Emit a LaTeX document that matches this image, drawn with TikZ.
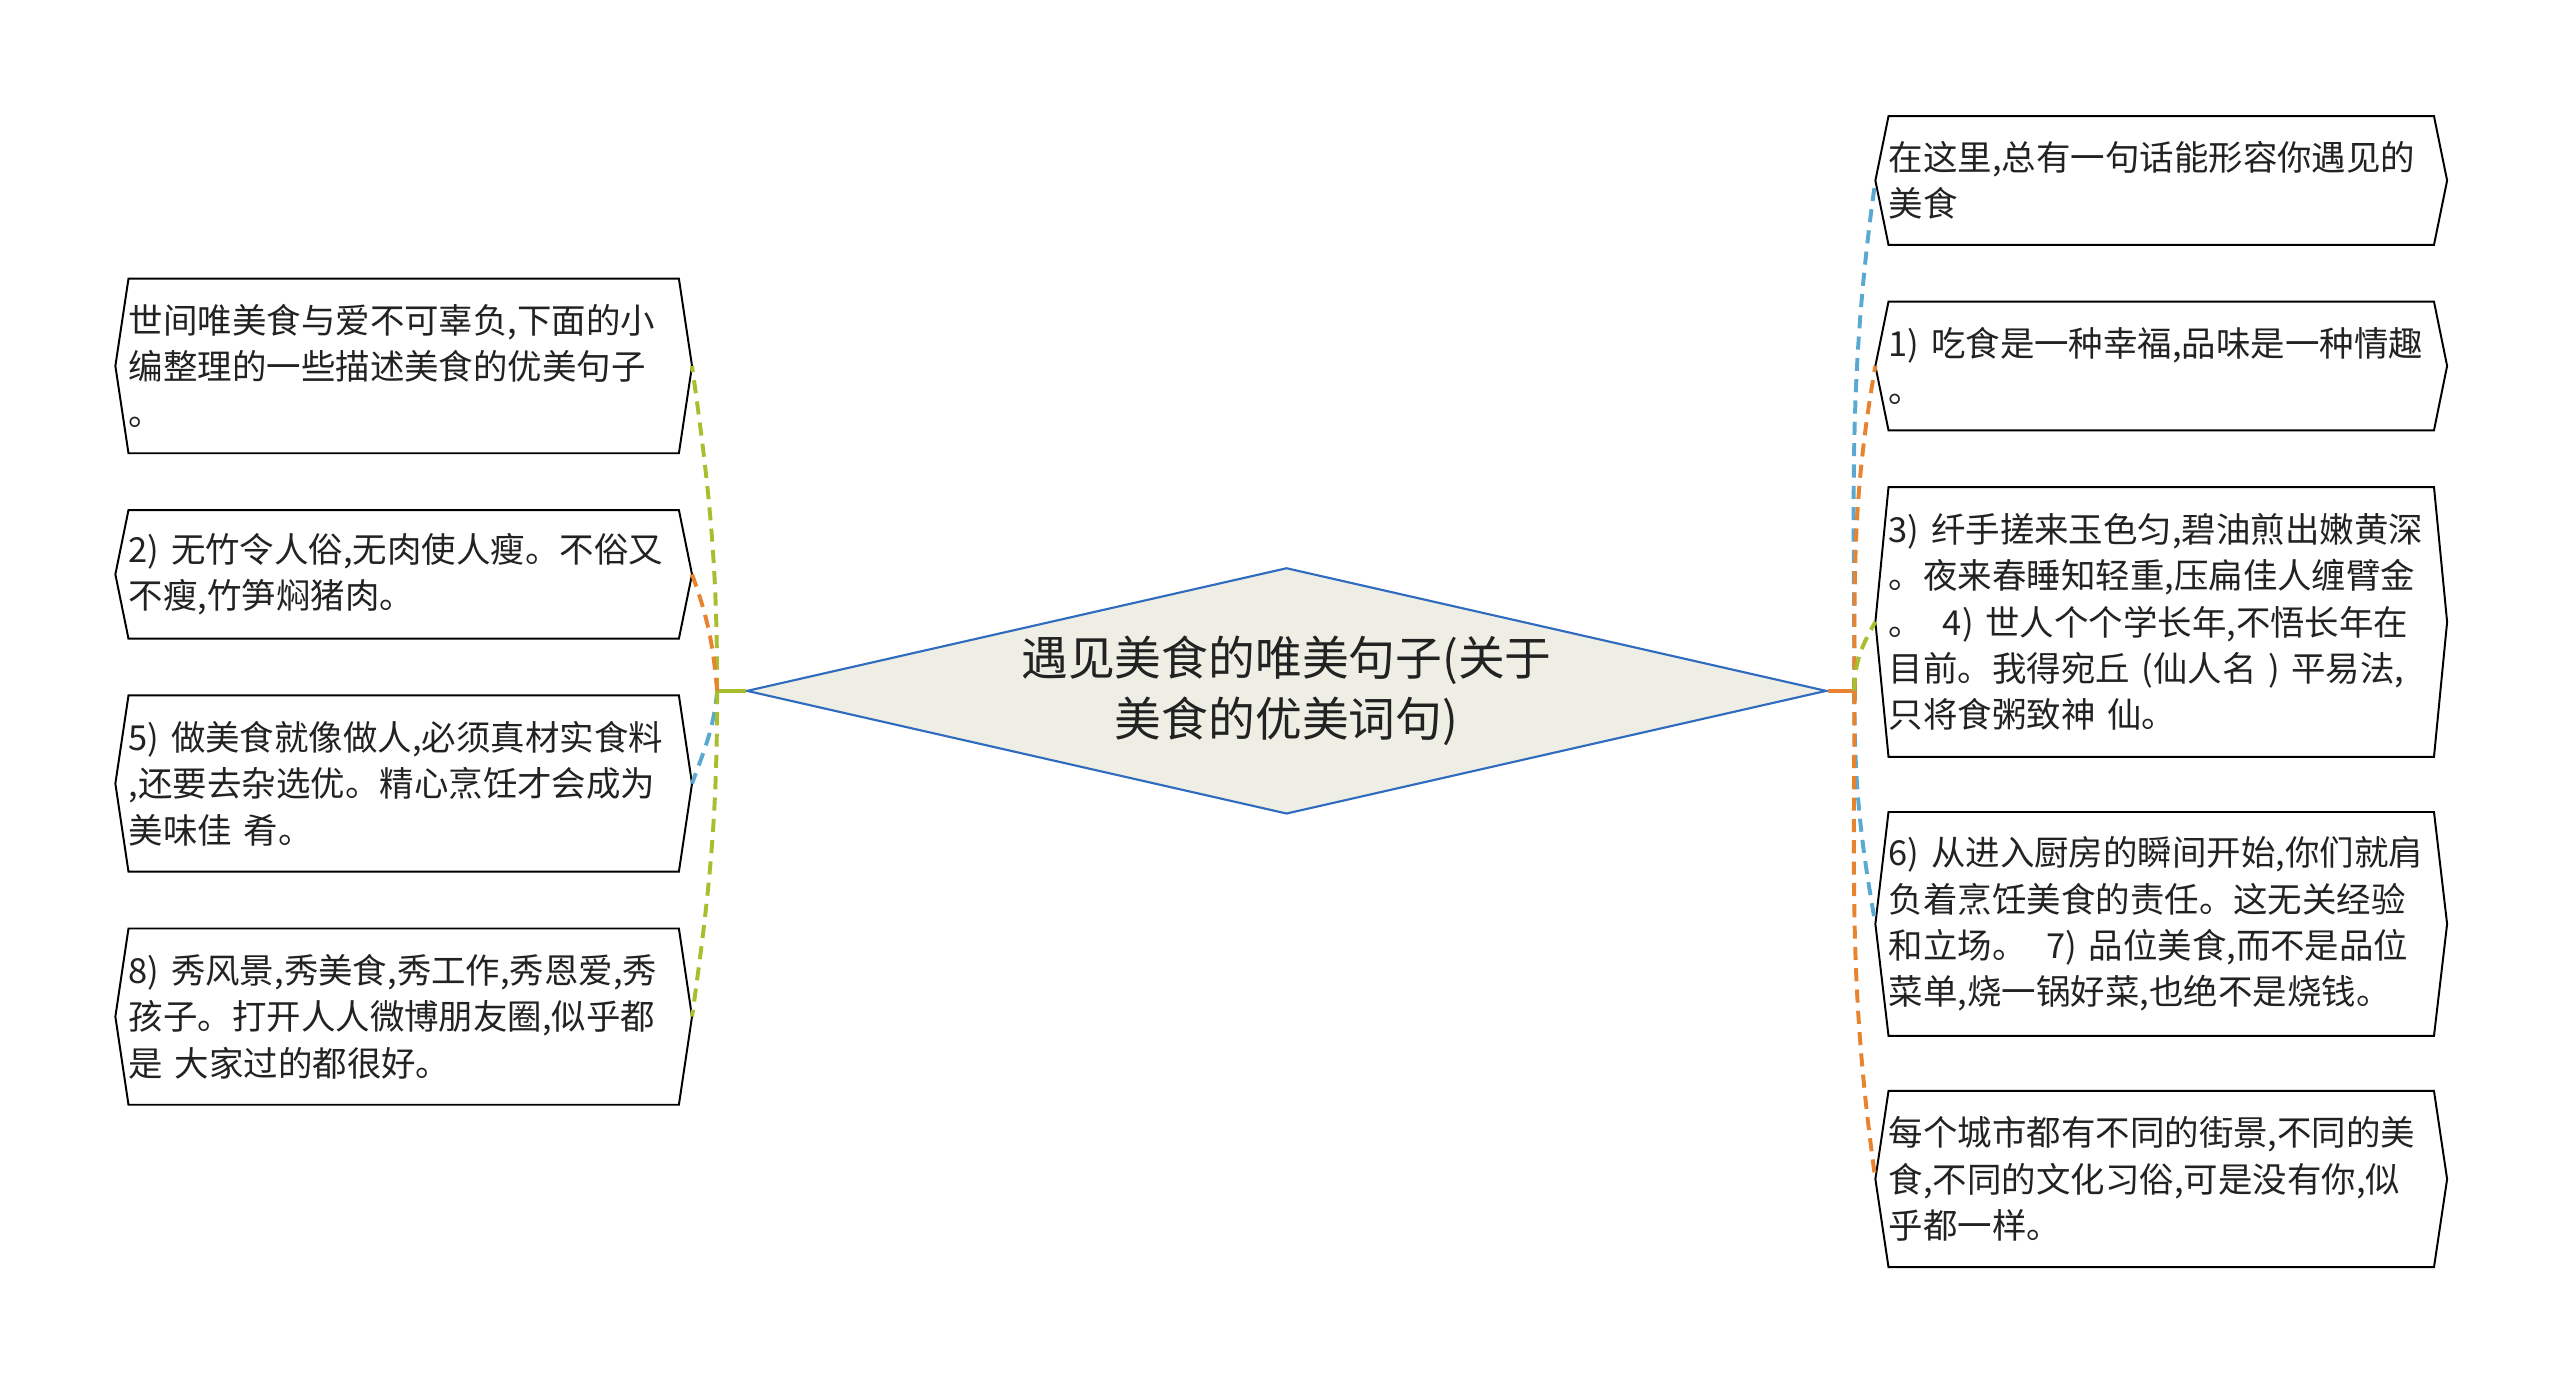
\documentclass[tikz,border=0pt]{standalone}
\usepackage{fontspec}
\newfontfamily\cjk{Noto Sans CJK SC}
\usetikzlibrary{shapes.geometric}
\definecolor{cgreen}{HTML}{A9BE2C}
\definecolor{corange}{HTML}{E8832F}
\definecolor{cblue}{HTML}{5AA9D1}
\definecolor{dborder}{HTML}{2F6CC0}
\definecolor{dfill}{HTML}{EEEEE5}
\definecolor{txt}{HTML}{222222}
\newcommand\hexdraw[1]{%
  \coordinate (#1r) at ([xshift=8pt]#1.east);
  \coordinate (#1l) at ([xshift=-8pt]#1.west);
  \draw[boxline] (#1.north west) -- (#1.north east) -- (#1r) -- (#1.south east) -- (#1.south west) -- (#1l) -- cycle;}
\begin{document}
\begin{tikzpicture}[x=1pt,y=1pt,
  lbox/.style={text width=335pt, inner sep=0pt, align=left, font=\cjk\fontsize{21}{28.3}\selectfont, text=txt},
  rbox/.style={lbox, text width=332pt},
  boxline/.style={draw=black, line width=1.2pt, line join=miter},
  link/.style={line width=2.4pt, dash pattern=on 8pt off 5pt},
  stub/.style={line width=2.6pt}]
\useasboundingbox (0,0) rectangle (1560,-839);

% centre
\node[diamond, draw=dborder, fill=dfill, line width=1.3pt, minimum width=658pt, minimum height=150pt, inner sep=0pt] (c) at (784,-421) {};
\node[font=\cjk\fontsize{28.5}{37}\selectfont, align=center, text=txt] (ct) at (c) {遇见美食的唯美句子(关于\\美食的优美词句)};

% left boxes
\node[lbox, minimum height=106pt] (b1) at (246,-223) {世间唯美食与爱不可辜负,下面的小\\编整理的一些描述美食的优美句子\\。};
\node[lbox, minimum height=78pt] (b2) at (246,-350) {2) 无竹令人俗,无肉使人瘦。不俗又\\不瘦,竹笋焖猪肉。};
\node[lbox, minimum height=107pt] (b3) at (246,-477.5) {5) 做美食就像做人,必须真材实食料\\,还要去杂选优。精心烹饪才会成为\\美味佳 肴。};
\node[lbox, minimum height=107pt] (b4) at (246,-619.5) {8) 秀风景,秀美食,秀工作,秀恩爱,秀\\孩子。打开人人微博朋友圈,似乎都\\是 大家过的都很好。};

% right boxes
\node[rbox, minimum height=78pt] (r1) at (1317,-110) {在这里,总有一句话能形容你遇见的\\美食};
\node[rbox, minimum height=78pt] (r2) at (1317,-223) {1) 吃食是一种幸福,品味是一种情趣\\。};
\node[rbox, minimum height=164pt] (r3) at (1317,-379) {3) 纤手搓来玉色匀,碧油煎出嫩黄深\\。夜来春睡知轻重,压扁佳人缠臂金\\。\hspace{12pt}4) 世人个个学长年,不悟长年在\\目前。我得宛丘 (仙人名 ) 平易法,\\只将食粥致神 仙。};
\node[rbox, minimum height=136pt] (r4) at (1317,-563) {6) 从进入厨房的瞬间开始,你们就肩\\负着烹饪美食的责任。这无关经验\\和立场。\hspace{12pt}7) 品位美食,而不是品位\\菜单,烧一锅好菜,也绝不是烧钱。};
\node[rbox, minimum height=107pt] (r5) at (1317,-718.5) {每个城市都有不同的街景,不同的美\\食,不同的文化习俗,可是没有你,似\\乎都一样。};

\hexdraw{b1}\hexdraw{b2}\hexdraw{b3}\hexdraw{b4}
\hexdraw{r1}\hexdraw{r2}\hexdraw{r3}\hexdraw{r4}\hexdraw{r5}

% junctions
\coordinate (jl) at (437,-421);
\coordinate (jr) at (1130,-421);
\draw[stub, cgreen] (c.west) -- (jl);
\draw[stub, cgreen] ([yshift=6pt]jl) -- ([yshift=-6pt]jl);
\draw[stub, corange] (c.east) -- (jr);
\draw[stub, corange] ([yshift=6pt]jr) -- ([yshift=-6pt]jr);

% left links
\draw[link, cgreen] (jl) to[out=90, in=-82] (b1r);
\draw[link, corange] (jl) to[out=95, in=-70] (b2r);
\draw[link, cblue] (jl) to[out=-95, in=70] (b3r);
\draw[link, cgreen] (jl) to[out=-90, in=82] (b4r);

% right links
\draw[link, cblue] (jr) to[out=90, in=-98] (r1l);
\draw[link, corange] (jr) to[out=90, in=-100] (r2l);
\draw[link, cgreen] (jr) to[out=90, in=-120] (r3l);
\draw[link, cblue] (jr) to[out=-90, in=100] (r4l);
\draw[link, corange] (jr) to[out=-90, in=98] (r5l);
\end{tikzpicture}
\end{document}
